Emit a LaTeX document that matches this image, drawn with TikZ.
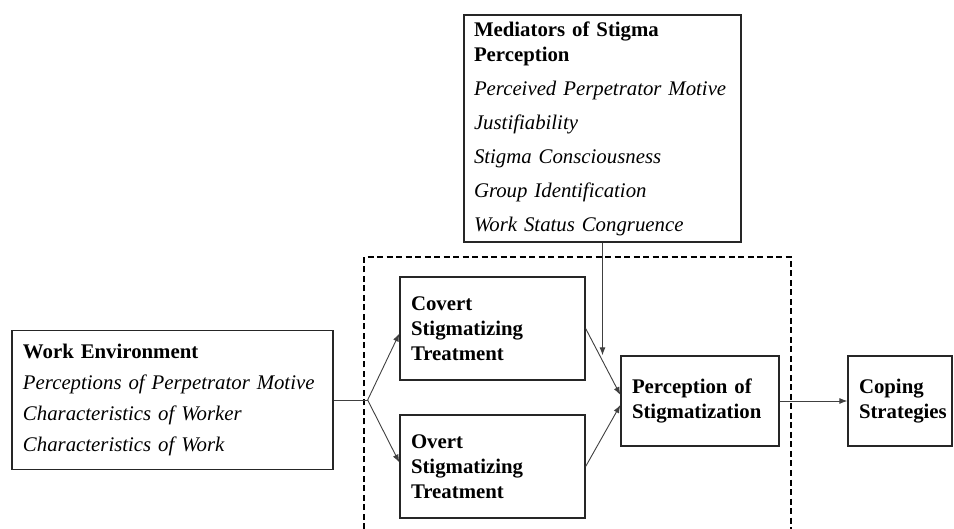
\documentclass[tikz,border=0pt]{standalone}
\usepackage{fontspec}
\setmainfont{Liberation Serif}
\usetikzlibrary{arrows.meta,calc}

\tikzset{
  box/.style={draw=black!85, line width=1.3pt, inner xsep=11pt, inner ysep=0pt,
    align=left, font=\fontsize{20.8}{25}\selectfont},
  link/.style={draw=black!75, line width=0.9pt, -{Latex[length=8pt,width=6pt]}},
  frame/.style={line width=1.3pt, dash pattern=on 6pt off 3.5pt},
}

\begin{document}
\begin{tikzpicture}[x=1pt, y=-1pt]
  \useasboundingbox (0,0) rectangle (954,529);

  \draw[frame] (364,529) -- (364,257) -- (791,257) -- (791,529);

  \node[box, inner xsep=10pt, text width=257pt, minimum height=227pt] (med) at (602.5,128.5)
    {\textbf{Mediators of Stigma}\\ \textbf{Perception}\\[9pt]
     \textit{Perceived Perpetrator Motive}\\[9pt]
     \textit{Justifiability}\\[9pt]
     \textit{Stigma Consciousness}\\[9pt]
     \textit{Group Identification}\\[9pt]
     \textit{Work Status Congruence}};
  \node[box, text width=299pt, minimum height=139pt] (work) at (172.5,400)
    {\textbf{Work Environment}\\[6pt]
     \textit{Perceptions of Perpetrator Motive}\\[6pt]
     \textit{Characteristics of Worker}\\[6pt]
     \textit{Characteristics of Work}};
  \node[box, text width=163pt, minimum height=103pt] (covert) at (492.5,328.5)
    {\textbf{Covert}\\ \textbf{Stigmatizing}\\ \textbf{Treatment}};
  \node[box, text width=163pt, minimum height=103pt] (overt) at (492.5,466.5)
    {\textbf{Overt}\\ \textbf{Stigmatizing}\\ \textbf{Treatment}};
  \node[box, text width=136pt, minimum height=90pt] (perc) at (700,401)
    {\textbf{Perception of}\\ \textbf{Stigmatization}};
  \node[box, text width=82pt, minimum height=90pt] (cope) at (900,401)
    {\textbf{Coping}\\ \textbf{Strategies}};

  \coordinate (split) at ($(work.east)+(34,0)$);
  \coordinate (medtip) at (med.south |- perc.north);

  \draw[line width=0.9pt, draw=black!75] (work.east) -- (split);
  \draw[link] (split) -- ($(covert.west)+(0,5)$);
  \draw[link] (split) -- ($(overt.west)+(0,-4)$);
  \draw[link] (covert.east) -- ($(perc.west)+(0,-6)$);
  \draw[link] (overt.east) -- ($(perc.west)+(0,4)$);
  \draw[link] (med.south) -- (medtip);
  \draw[link] (perc.east) -- (cope.west);
\end{tikzpicture}
\end{document}
